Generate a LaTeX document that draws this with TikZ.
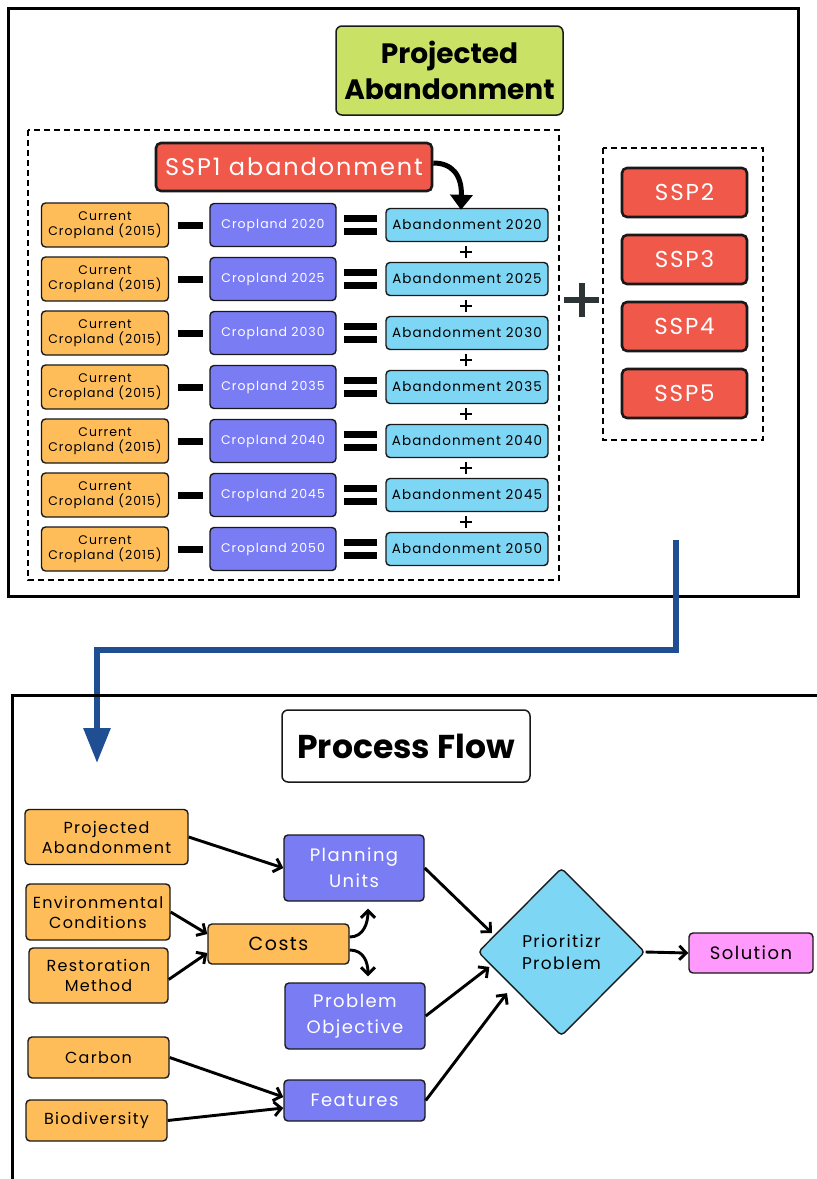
\documentclass[tikz,border=0pt]{standalone}
\usepackage{fontspec}
\setmainfont{Poppins}[LetterSpace=8]
\newfontfamily\titlefont{Poppins}
\usetikzlibrary{shapes.geometric,arrows.meta}
\definecolor{cOrange}{HTML}{FFBD59}
\definecolor{cPurple}{HTML}{7A7CF4}
\definecolor{cCyan}{HTML}{7ED6F5}
\definecolor{cRed}{HTML}{F0584A}
\definecolor{cGreen}{HTML}{C9E265}
\definecolor{cPink}{HTML}{FF99FB}
\definecolor{cDark}{HTML}{2D3436}
\definecolor{cBlue}{HTML}{1F4E93}
\begin{document}
\begin{tikzpicture}[x=1pt,y=-1pt,
  box/.style={draw=black!90, line width=1.4pt, rounded corners=4pt, align=center, inner sep=0pt},
  titlebox/.style={box, line width=1.5pt, rounded corners=6pt, font=\titlefont\bfseries\fontsize{28}{38}\selectfont},
  curbox/.style={box, fill=cOrange, minimum width=127, minimum height=44, font=\fontsize{12.5}{15}\selectfont},
  cropbox/.style={box, fill=cPurple, text=white, minimum width=126, minimum height=43, font=\fontsize{12.5}{15}\selectfont},
  abbox/.style={box, fill=cCyan, minimum width=162, minimum height=33, font=\fontsize{13.5}{16}\selectfont},
  sspbox/.style={box, fill=cRed, text=white, line width=2.6pt, rounded corners=5pt, minimum width=125, minimum height=49, font=\fontsize{23}{27}\selectfont},
  obox/.style={box, fill=cOrange, font=\fontsize{16}{20}\selectfont},
  pbox/.style={box, fill=cPurple, text=white, font=\fontsize{18}{26}\selectfont},
  frame/.style={line width=3pt},
  dbox/.style={line width=2.2pt, dash pattern=on 6pt off 4pt},
  flow/.style={line width=2.9pt, -{Straight Barb[length=7pt,width=14pt,line width=2.9pt]}},
  blueline/.style={cBlue, line width=6pt, -{Triangle[length=35pt,width=26pt]}}
]
\useasboundingbox (0,0) rectangle (817,1179);
\fill[white] (0,0) rectangle (817,1179);

% top frame
\draw[frame] (8,8) rectangle (798,596);
\draw[dbox] (28,130) rectangle (559,580);
\draw[dbox] (603,148) rectangle (763,440);

\node[titlebox, fill=cGreen, minimum width=227, minimum height=89] (t1) at (449.5,70.5) {Projected\\[-2pt]Abandonment};

\node[sspbox, minimum width=276, minimum height=48, font=\fontsize{24}{28}\selectfont] (ssp1) at (294,167) {SSP1 abandonment};

\foreach \i/\yr in {0/2020,1/2025,2/2030,3/2035,4/2040,5/2045,6/2050}{
  \pgfmathsetmacro{\yy}{225+54*\i}
  \node[curbox] (cur\i) at (105,\yy) {Current\\Cropland (2015)};
  \node[cropbox] (crop\i) at (273,\yy) {Cropland \yr};
  \node[abbox] (ab\i) at (467,\yy) {Abandonment \yr};
  \fill (178,{\yy-3.5}) rectangle (203,{\yy+3.5});
  \fill (344,{\yy-10}) rectangle (377,{\yy-3});
  \fill (344,{\yy+3}) rectangle (377,{\yy+10});
}
\foreach \i in {0,...,5}{
  \pgfmathsetmacro{\yy}{225+54*\i+27}
  \draw[line width=2.6pt] (460,\yy) -- (472,\yy) (466,{\yy-6}) -- (466,{\yy+6});
}

\draw[line width=5pt, -{Triangle[length=15pt,width=22pt]}] ([yshift=4pt]ssp1.east) .. controls (452,163) and (462,175) .. ([xshift=-6pt,yshift=-2pt]ab0.north);

\draw[line width=6pt, cDark] (564,300) -- (599,300) (581.5,283) -- (581.5,317);

\node[sspbox] (ssp2) at (684.5,192.5) {SSP2};
\node[sspbox] (ssp3) at (684.5,259.5) {SSP3};
\node[sspbox] (ssp4) at (684.5,326.5) {SSP4};
\node[sspbox] (ssp5) at (684.5,393.5) {SSP5};

% blue connector
\coordinate (bstart) at (676,540);
\coordinate (bend) at (97,763);
\draw[blueline] (bstart) -- (676,650) -- (97,650) -- (bend);

% bottom frame
\draw[frame] (12,1179) -- (12,695) -- (817,695);

\node[titlebox, fill=white, minimum width=248, minimum height=72, font=\titlefont\bfseries\fontsize{33}{38}\selectfont] (t2) at (406,746) {Process Flow};

\node[obox, minimum width=163, minimum height=55] (pa) at (106.5,837) {Projected\\Abandonment};
\node[obox, minimum width=144, minimum height=56] (ec) at (98,912) {Environmental\\Conditions};
\node[obox, minimum width=139, minimum height=55] (rm) at (98.5,975.5) {Restoration\\Method};
\node[obox, minimum width=141, minimum height=40, font=\fontsize{19}{22}\selectfont] (costs) at (278.5,944) {Costs};
\node[obox, minimum width=141, minimum height=41] (carbon) at (98.5,1057.5) {Carbon};
\node[obox, minimum width=141, minimum height=41] (bio) at (96.5,1120.5) {Biodiversity};
\node[pbox, minimum width=140, minimum height=66] (pu) at (354,868) {Planning\\Units};
\node[pbox, minimum width=140, minimum height=66] (po) at (355,1016) {Problem\\Objective};
\node[pbox, minimum width=141, minimum height=41] (feat) at (354.5,1100.5) {Features};
\node[diamond, draw=black!90, line width=1.4pt, fill=cCyan, rounded corners=4pt, inner sep=0pt, minimum width=167, minimum height=168, align=center, font=\fontsize{17}{22}\selectfont] (dia) at (561.5,952) {Prioritizr\\Problem};
\node[box, fill=cPink, minimum width=124, minimum height=40, font=\fontsize{18}{22}\selectfont] (sol) at (751,953) {Solution};

\draw[flow] (pa.east) -- (pu.west);
\draw[flow] (ec.east) -- ([yshift=10pt]costs.west);
\draw[flow] ([yshift=-4pt]rm.east) -- ([yshift=-9pt]costs.west);
\draw[flow] ([yshift=7pt]costs.east) .. controls +(14,0) and +(0,14) .. ([xshift=14pt,yshift=-7pt]pu.south);
\draw[flow] ([yshift=-6pt]costs.east) .. controls +(14,0) and +(0,-14) .. ([xshift=13pt,yshift=6pt]po.north);
\draw[flow, shorten >=3pt] (pu.east) -- (dia.166);
\draw[flow, shorten >=2pt] (po.east) -- (dia.191);
\draw[flow, shorten >=8pt] (feat.east) -- (dia.215);
\draw[flow] (dia.east) -- (sol.west);
\draw[flow] (carbon.east) -- ([yshift=3.5pt]feat.west);
\draw[flow] (bio.east) -- ([yshift=-7.5pt]feat.west);
\end{tikzpicture}
\end{document}
